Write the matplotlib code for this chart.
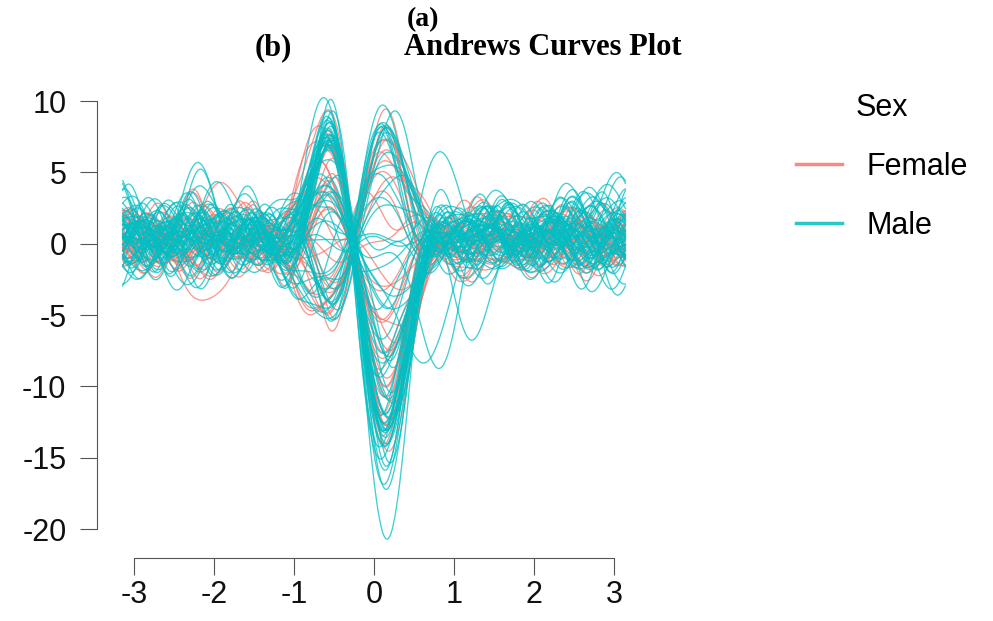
import numpy as np
import matplotlib
matplotlib.use("Agg")
import matplotlib.pyplot as plt
from matplotlib.lines import Line2D

# Observations: 19 measurements per subject, one list per sex
female_rows = [
    [0.4, -1.4, -1.8, -2.2, -1.8, -1.9, -2.4, -1.7, -2.3, -1.0, -2.1, -0.3, -1.6, -0.5, -0.6, -0.5, 0.3, 0.6, -0.4],
    [-0.3, -0.6, -2.1, -1.3, -2.1, -2.2, -1.5, -2.0, -1.5, -1.4, -1.3, -0.8, -0.9, 0.1, -1.0, 0.6, -0.7, -0.2, 0.5],
    [0.7, -1.2, -1.5, -1.9, -1.6, -1.6, -2.1, -1.4, -2.1, -0.9, -1.9, -0.3, -1.4, -0.5, -0.5, -0.3, 0.8, -0.6, -0.1],
    [-0.6, -0.8, -1.9, -1.5, -1.9, -2.0, -1.7, -1.9, -1.7, -1.3, -1.5, -0.6, -1.1, -0.2, -0.9, 0.2, 0.4, 0.7, 0.6],
    [0.1, -1.1, -1.7, -1.8, -1.7, -1.8, -1.9, -1.6, -1.9, -1.0, -1.7, -0.4, -1.3, -0.3, -0.6, -0.7, -0.4, 0.2, -0.7],
    [0.5, -0.5, -1.9, -1.2, -1.9, -2.0, -1.3, -1.8, -1.3, -1.3, -1.2, -0.7, -0.8, 0.1, -0.9, 0.5, 0.6, -0.5, 0.2],
    [-0.4, -1.1, -1.3, -1.7, -1.4, -1.4, -1.9, -1.3, -1.9, -0.8, -1.7, -0.2, -1.3, -0.5, -0.4, -0.6, -0.2, 0.6, -0.5],
    [0.0, -0.8, -1.7, -1.5, -1.6, -1.7, -1.6, -1.6, -1.7, -1.1, -1.4, -0.5, -1.0, -0.2, -0.7, 0.8, -0.5, 0.1, 0.7],
    [-0.7, -1.0, -1.1, -1.5, -1.2, -1.2, -1.6, -1.0, -1.6, -0.6, -1.4, -0.1, -1.1, -0.4, -0.3, 0.3, 0.7, -0.7, -0.2],
    [0.6, -0.4, -1.6, -1.0, -1.6, -1.7, -1.1, -1.5, -1.1, -1.1, -1.0, -0.6, -0.7, 0.1, -0.8, -0.5, -0.6, 0.4, 0.5],
    [0.2, -0.7, -1.4, -1.3, -1.3, -1.4, -1.4, -1.3, -1.4, -0.8, -1.2, -0.4, -0.9, -0.1, -0.6, 0.6, 0.2, 0.5, -0.6],
    [-0.2, -0.9, -0.8, -1.3, -0.8, -0.9, -1.4, -0.7, -1.4, -0.4, -1.2, 0.0, -0.9, -0.4, -0.2, -0.4, 0.5, 0.3, 0.6],
    [0.5, -0.3, -1.3, -0.7, -1.4, -1.4, -0.8, -1.3, -0.8, -0.9, -0.7, -0.6, -0.5, 0.1, -0.7, 0.7, -0.3, -0.6, -0.4],
    [-0.5, -0.6, -1.1, -1.0, -1.1, -1.2, -1.1, -1.0, -1.1, -0.7, -1.0, -0.3, -0.7, -0.2, -0.4, -0.2, -0.8, 0.6, 0.3],
    [0.3, -0.7, -0.5, -1.0, -0.5, -0.6, -1.1, -0.5, -1.1, -0.2, -1.0, 0.1, -0.8, -0.4, -0.1, 0.4, 0.6, -0.4, -0.5],
    [-0.6, -0.2, -1.1, -0.5, -1.1, -1.1, -0.6, -1.0, -0.6, -0.8, -0.5, -0.5, -0.3, 0.2, -0.6, -0.6, 0.2, 0.5, 0.7],
    [0.4, -0.5, -0.3, -0.7, -0.3, -0.3, -0.8, -0.2, -0.8, -0.1, -0.7, 0.1, -0.6, -0.3, 0.1, 0.5, -0.4, -0.3, 0.4],
    [-0.4, 0.1, -0.6, 0.0, -0.6, -0.6, 0.0, -0.5, 0.0, -0.5, 0.1, -0.4, 0.1, 0.3, -0.4, -0.5, 0.7, 0.2, -0.3],
    [0.3, -0.3, 0.3, -0.4, 0.4, 0.3, -0.3, 0.4, -0.4, 0.3, -0.3, 0.4, -0.3, -0.3, 0.3, 0.4, -0.3, -0.6, 0.5],
    [-0.3, 0.6, 0.3, 0.8, 0.3, 0.2, 0.8, 0.2, 0.8, 0.0, 0.7, -0.1, 0.6, 0.3, -0.1, -0.4, 0.5, 0.6, -0.4],
    [0.5, 0.0, 0.8, 0.2, 0.8, 0.9, 0.3, 0.8, 0.3, 0.6, 0.2, 0.4, 0.1, -0.2, 0.5, 0.6, -0.5, -0.3, 0.3],
    [-0.5, 0.8, 0.5, 1.1, 0.5, 0.5, 1.1, 0.4, 1.1, 0.2, 1.0, 0.0, 0.8, 0.4, 0.0, 0.3, 0.6, -0.5, -0.6],
    [0.4, 0.1, 1.1, 0.4, 1.1, 1.2, 0.5, 1.1, 0.5, 0.8, 0.4, 0.5, 0.2, -0.2, 0.6, -0.7, -0.2, 0.4, 0.5],
    [0.1, 0.9, 0.7, 1.2, 0.7, 0.8, 1.3, 0.7, 1.3, 0.4, 1.2, 0.1, 0.9, 0.4, 0.1, 0.5, 0.3, 0.7, -0.2],
    [-0.6, 0.2, 1.3, 0.6, 1.3, 1.3, 0.7, 1.2, 0.7, 0.9, 0.6, 0.6, 0.3, -0.1, 0.7, -0.4, 0.8, -0.5, 0.1],
    [0.6, 0.5, 1.0, 0.9, 1.0, 1.1, 1.0, 0.9, 1.0, 0.6, 0.9, 0.3, 0.7, 0.1, 0.4, 0.2, -0.7, -0.2, 0.6],
    [-0.2, 0.7, 0.9, 1.0, 0.9, 1.0, 1.1, 0.9, 1.0, 0.7, 0.8, 0.3, 0.6, 0.2, 0.4, -0.6, 0.4, 0.3, -0.5],
    [0.3, 0.9, 1.0, 1.3, 1.0, 1.0, 1.4, 0.9, 1.4, 0.5, 1.3, 0.1, 1.0, 0.4, 0.2, 0.6, -0.4, 0.5, 0.3],
    [-0.4, 0.4, 1.4, 0.8, 1.4, 1.5, 0.9, 1.4, 0.9, 1.0, 0.8, 0.6, 0.5, -0.1, 0.8, -0.3, 0.6, -0.7, -0.4],
    [-0.3, 0.4, -0.2, -1.2, -0.4, -0.7, -1.7, 0.0, -0.6, -1.1, -0.6, -0.3, -1.3, 0.1, -0.2, 0.2, -0.3, 0.1, 0.4],
    [-0.5, -0.8, -2.3, -1.5, -2.2, -2.4, -1.7, -2.2, -1.8, -1.5, -1.5, -0.8, -1.1, 0.0, -1.1, 0.7, 0.6, -0.8, 0.2],
    [0.6, -1.0, -1.2, -1.6, -1.2, -1.3, -1.7, -1.1, -1.7, -0.6, -1.5, -0.2, -1.2, -0.5, -0.3, -0.8, -0.6, 0.5, 0.7],
    [-0.2, -0.3, -1.2, -0.6, -1.2, -1.2, -0.6, -1.1, -0.7, -0.8, -0.5, -0.5, -0.3, 0.2, -0.6, 0.6, 0.9, 0.4, -0.5],
    [0.7, 0.5, 0.1, 0.6, 0.1, 0.0, 0.7, 0.1, 0.7, -0.1, 0.6, -0.2, 0.5, 0.3, -0.2, -0.7, -0.4, -0.6, 0.6],
    [-0.4, 0.8, 0.9, 1.2, 0.8, 0.9, 1.3, 0.8, 1.3, 0.4, 1.2, 0.0, 1.0, 0.4, 0.2, 0.8, -0.5, 0.4, 0.3],
    [0.5, 0.2, 1.2, 0.5, 1.2, 1.3, 0.6, 1.2, 0.6, 0.9, 0.5, 0.6, 0.3, -0.2, 0.7, -0.5, 0.7, 0.7, -0.6],
    [0.4, -0.8, -0.6, -0.1, -1.0, -0.1, 0.0, -1.0, -0.2, -0.4, -0.9, 0.3, -0.3, -0.2, 0.1, 0.2, -0.3, 0.1, 0.2],
    [0.2, -1.3, -1.4, -1.9, -1.5, -1.6, -2.0, -1.4, -2.0, -0.8, -1.8, -0.2, -1.4, -0.5, -0.4, -0.6, 0.8, -0.4, -0.7],
]

male_rows = [
    [0.5, -1.3, -3.4, -2.0, -3.6, -2.3, -3.0, -2.2, -2.6, -1.4, -2.3, -1.2, -1.6, -1.4, -0.4, -0.6, -0.6, 0.3, 0.5],
    [-0.4, -0.4, -2.7, -2.1, -2.0, -1.7, -2.8, -2.6, -2.0, -1.9, -1.7, -1.1, -1.2, 0.1, -1.4, -0.5, 0.7, -0.2, -0.6],
    [0.7, -1.2, -2.0, -1.4, -2.8, -2.5, -2.0, -1.9, -2.8, -1.1, -2.5, -0.3, -1.9, -0.7, -0.5, 0.6, 0.2, -0.7, 0.3],
    [-0.1, -0.7, -2.6, -2.0, -2.2, -1.9, -2.6, -2.5, -2.1, -1.8, -1.9, -0.9, -1.4, -0.2, -1.2, -0.3, -0.8, 0.5, 0.1],
    [0.3, -1.1, -1.7, -1.9, -2.4, -1.4, -2.5, -1.6, -2.4, -1.0, -2.2, -0.2, -1.7, -0.7, -0.4, 0.8, -0.1, 0.4, -0.5],
    [-0.6, -0.7, -2.4, -1.5, -1.8, -2.2, -1.7, -2.3, -1.7, -1.7, -1.5, -1.0, -1.0, 0.2, -1.3, -0.6, 0.5, -0.4, 0.7],
    [0.9, -0.9, -2.3, -1.8, -1.7, -1.6, -2.4, -1.7, -2.5, -1.1, -1.6, -0.9, -1.6, -0.5, -0.6, 0.2, 0.9, 0.6, -0.2],
    [-0.2, -0.9, -1.8, -1.6, -2.5, -2.0, -1.8, -2.2, -1.8, -1.5, -2.1, -0.3, -1.1, -0.1, -1.1, -0.9, -0.3, -0.5, 0.4],
    [0.1, -1.0, -2.2, -1.6, -2.0, -1.5, -2.3, -2.1, -2.2, -1.2, -1.7, -0.8, -1.5, -0.4, -0.9, 0.5, -0.7, 0.2, 0.8],
    [0.6, -0.5, -2.1, -1.9, -1.4, -1.6, -2.2, -2.0, -1.5, -0.8, -1.9, -0.9, -0.8, -0.6, -0.4, -0.4, 0.6, 0.7, -0.3],
    [-0.7, -1.3, -1.5, -1.3, -2.2, -2.2, -1.5, -1.4, -2.1, -1.5, -1.3, -0.2, -1.5, 0.1, -1.0, 0.7, -0.4, -0.6, 0.2],
    [0.2, -0.8, -2.0, -1.9, -1.6, -1.7, -2.1, -1.9, -1.6, -1.0, -1.8, -0.7, -1.0, -0.5, -0.5, 0.1, 0.8, -0.3, -0.7],
    [-0.3, -1.2, -1.6, -1.4, -2.1, -2.1, -1.6, -1.5, -2.0, -1.4, -1.4, -0.3, -1.4, -0.1, -0.9, -0.8, -0.2, 0.5, 0.6],
    [0.4, -0.6, -1.9, -1.8, -1.7, -1.5, -2.0, -1.6, -1.9, -0.9, -1.8, -0.6, -1.3, -0.3, -0.6, 0.6, -0.5, -0.8, -0.1],
    [-0.5, -1.1, -1.7, -1.5, -2.0, -2.2, -1.6, -1.9, -1.7, -1.3, -1.4, -0.4, -1.0, -0.2, -0.9, -0.2, 0.4, 0.8, 0.5],
    [0.8, -0.9, -1.9, -1.7, -1.8, -1.8, -1.9, -1.5, -2.0, -1.2, -1.7, -0.5, -1.2, -0.4, -0.7, 0.3, -0.9, -0.1, 0.6],
    [-0.1, -1.0, -1.6, -1.6, -1.9, -2.0, -1.7, -1.8, -1.7, -1.0, -1.5, -0.6, -1.1, 0.0, -0.8, -0.6, 0.3, 0.4, -0.8],
    [0.5, -0.4, -1.9, -1.8, -1.3, -1.4, -2.0, -1.9, -1.3, -0.7, -1.8, -0.8, -0.7, -0.5, -0.3, 0.9, 0.1, -0.4, 0.3],
    [-0.4, -1.2, -1.3, -1.2, -2.0, -2.0, -1.3, -1.2, -1.9, -1.3, -1.1, -0.1, -1.4, 0.1, -1.0, -0.5, -0.6, 0.6, -0.4],
    [0.0, -0.7, -1.8, -1.6, -1.5, -1.8, -1.6, -1.6, -1.7, -0.9, -1.6, -0.6, -0.9, -0.4, -0.5, 0.4, 0.7, 0.3, 0.8],
    [0.7, -1.0, -1.4, -1.3, -1.8, -1.5, -1.8, -1.4, -1.5, -1.2, -1.3, -0.3, -1.2, -0.1, -0.9, -0.7, 0.2, -0.6, -0.2],
    [-0.8, -0.6, -1.7, -1.7, -1.6, -1.9, -1.5, -1.7, -1.8, -0.8, -1.5, -0.7, -1.0, -0.3, -0.6, 0.2, -0.8, 0.5, 0.4],
    [0.3, -1.1, -1.0, -1.6, -1.7, -1.1, -1.7, -1.0, -1.7, -0.5, -1.5, -0.1, -1.2, -0.5, -0.2, 0.8, 0.4, 0.1, -0.6],
    [-0.5, -0.3, -1.6, -0.9, -1.1, -1.7, -1.1, -1.6, -1.1, -1.2, -0.9, -0.7, -0.6, 0.2, -0.9, -0.4, 0.9, -0.5, 0.2],
    [0.9, -0.8, -1.4, -1.4, -1.2, -1.3, -1.5, -1.2, -1.5, -0.8, -1.3, -0.5, -0.8, -0.1, -0.6, 0.1, -0.6, 0.8, 0.5],
    [-0.2, -0.6, -1.2, -1.1, -1.5, -1.6, -1.2, -1.4, -1.3, -1.0, -1.0, -0.3, -1.0, -0.3, -0.4, -0.7, -0.1, -0.3, -0.8],
    [0.4, -0.2, -1.4, -1.3, -0.7, -0.8, -1.4, -1.4, -0.8, -0.3, -1.3, -0.7, -0.4, -0.5, -0.1, 0.6, -0.3, -0.7, 0.4],
    [-0.6, -0.9, -0.8, -0.6, -1.4, -1.5, -0.8, -0.7, -1.4, -1.0, -0.7, 0.1, -1.0, 0.2, -0.8, -0.5, 0.7, 0.4, -0.3],
    [0.1, -0.5, -1.1, -1.0, -1.0, -1.2, -1.0, -1.1, -1.2, -0.6, -1.0, -0.4, -0.6, -0.2, -0.5, 0.3, 0.2, -0.9, 0.7],
    [-0.3, -0.8, -0.4, -1.1, -1.2, -0.5, -1.1, -0.4, -1.2, -0.1, -1.0, 0.2, -0.9, -0.5, 0.0, -0.8, -0.4, 0.6, 0.2],
    [0.6, -0.1, -1.1, -0.4, -0.5, -1.2, -0.5, -1.1, -0.5, -0.9, -0.4, -0.6, -0.2, 0.3, -0.7, 0.5, 0.8, -0.2, -0.5],
    [0.2, -0.7, -0.2, -0.8, -0.9, -0.2, -0.9, -0.1, -0.9, 0.0, -0.8, 0.2, -0.7, -0.4, 0.1, -0.6, 0.3, 0.7, -0.7],
    [-0.5, 0.1, -0.8, -0.2, -0.2, -0.9, -0.3, -0.8, -0.2, -0.7, -0.2, -0.5, 0.0, 0.3, -0.5, 0.7, -0.5, -0.4, 0.6],
    [0.4, -0.5, 0.1, -0.6, -0.6, 0.1, -0.6, 0.1, -0.6, 0.2, -0.5, 0.3, -0.5, -0.4, 0.2, 0.9, 0.1, -0.5, 0.3],
    [-0.3, 0.4, -0.4, 0.3, 0.4, -0.4, 0.3, -0.4, 0.4, -0.3, 0.3, -0.4, 0.4, 0.3, -0.3, -0.4, -0.7, 0.3, -0.5],
    [0.5, 0.7, 0.2, 0.8, 0.9, 0.2, 0.9, 0.1, 0.9, 0.0, 0.8, -0.2, 0.7, 0.4, -0.1, 0.6, -0.2, -0.7, 0.4],
    [-0.4, -0.1, 0.8, 0.2, 0.2, 0.9, 0.3, 0.8, 0.2, 0.7, 0.2, 0.5, 0.0, -0.3, 0.5, -0.7, 0.6, 0.2, -0.3],
    [0.3, 0.8, 0.5, 1.1, 1.2, 0.5, 1.1, 0.4, 1.2, 0.2, 1.0, -0.1, 0.9, 0.5, 0.0, 0.4, 0.5, 0.6, 0.7],
    [-0.6, 0.1, 1.1, 0.4, 0.5, 1.2, 0.5, 1.1, 0.5, 0.9, 0.4, 0.6, 0.2, -0.2, 0.7, -0.5, -0.8, -0.3, 0.1],
    [0.7, 0.5, 0.9, 0.8, 0.7, 0.8, 0.9, 0.7, 0.9, 0.4, 0.8, 0.3, 0.5, 0.0, 0.4, 0.2, 0.1, -0.9, -0.6],
    [0.2, 0.9, 0.7, 1.2, 1.3, 0.7, 1.3, 0.6, 1.4, 0.3, 1.2, 0.0, 1.0, 0.5, 0.1, -0.3, 0.7, 0.5, -0.4],
    [-0.5, 0.2, 1.3, 0.6, 0.7, 1.4, 0.7, 1.3, 0.7, 1.0, 0.6, 0.7, 0.3, -0.2, 0.8, 0.6, -0.4, -0.6, 0.5],
    [0.6, 0.6, 1.0, 1.0, 0.9, 1.0, 1.1, 0.9, 1.1, 0.6, 0.9, 0.4, 0.6, 0.1, 0.4, -0.8, 0.2, 0.3, 0.8],
    [-0.1, 0.4, 1.1, 0.8, 1.2, 1.2, 0.9, 1.1, 0.9, 0.8, 0.8, 0.2, 0.8, 0.3, 0.3, 0.5, 0.9, -0.2, -0.7],
    [0.9, 0.7, 0.8, 1.1, 0.9, 0.9, 1.2, 0.8, 1.2, 0.5, 1.0, 0.5, 0.5, 0.0, 0.5, -0.1, -0.6, 0.8, 0.2],
    [0.3, 1.0, 0.9, 1.4, 1.5, 0.9, 1.5, 0.8, 1.6, 0.4, 1.4, 0.1, 1.1, 0.6, 0.2, 0.7, -0.3, -0.4, 0.6],
    [-0.4, 0.3, 1.5, 0.8, 0.9, 1.6, 0.9, 1.5, 0.9, 1.1, 0.8, 0.7, 0.4, -0.2, 0.9, -0.6, 0.5, 0.7, -0.2],
    [0.6, 0.7, 1.2, 1.1, 1.2, 1.2, 1.2, 1.1, 1.2, 0.8, 1.0, 0.3, 0.8, 0.2, 0.5, 0.2, 0.8, -0.8, -0.5],
    [0.2, -1.3, -1.3, -1.8, -0.4, -1.4, 0.6, -0.3, 1.0, 0.7, 0.4, 0.8, -0.5, 0.4, -0.8, 0.3, -0.5, -0.2, 0.4],
    [0.0, -1.0, -0.4, -0.5, 0.9, 0.6, 0.8, 1.0, -0.3, 0.0, -0.8, -0.7, -0.3, -0.3, 0.4, -0.2, 0.3, 0.4, 0.1],
    [0.6, -0.5, -0.4, 0.7, -0.2, -0.2, 0.7, -0.4, -0.6, 0.6, 0.0, -0.3, 0.4, -0.1, -0.3, 0.5, 0.2, -0.4, 0.3],
    [0.3, -1.0, -2.3, -1.5, -2.3, -2.0, -1.7, -2.2, -2.3, -0.9, -2.0, -0.9, -1.0, 0.1, -1.1, 0.8, -0.5, -0.6, 0.7],
    [-0.6, -0.7, -1.7, -2.1, -1.8, -1.8, -2.3, -1.6, -1.8, -1.6, -1.5, -0.3, -1.6, -0.6, -0.5, -0.9, 0.6, 0.7, -0.4],
    [0.9, -0.8, -2.1, -1.5, -2.2, -1.6, -2.1, -2.0, -1.9, -1.3, -1.9, -0.6, -1.2, -0.3, -0.8, 0.6, 0.9, -0.8, -0.6],
    [-0.2, -0.6, -2.0, -1.4, -1.5, -2.3, -1.6, -2.0, -2.1, -0.8, -1.4, -0.9, -1.4, 0.2, -1.0, -0.7, -0.9, 0.4, 0.8],
    [0.8, -1.1, -1.2, -1.6, -1.1, -1.3, -1.8, -1.1, -1.7, -0.6, -1.5, -0.1, -1.3, -0.6, -0.2, 0.9, -0.2, 0.8, -0.7],
    [-0.7, -0.2, -1.2, -0.5, -1.3, -1.3, -0.6, -1.1, -0.6, -0.9, -0.5, -0.6, -0.2, 0.3, -0.7, -0.8, 0.7, -0.6, 0.5],
    [0.6, 0.5, 0.1, 0.7, 0.0, 0.1, 0.7, 0.0, 0.8, -0.2, 0.6, -0.3, 0.6, 0.4, -0.3, 0.7, 0.8, -0.5, -0.6],
    [-0.3, 0.9, 0.8, 1.3, 0.8, 0.9, 1.4, 0.8, 1.4, 0.4, 1.3, 0.1, 1.0, 0.5, 0.1, -0.6, 0.6, 0.8, 0.4],
    [0.7, 0.3, 1.4, 0.7, 1.4, 1.4, 0.8, 1.3, 0.8, 1.0, 0.7, 0.6, 0.4, -0.2, 0.8, 0.8, -0.7, -0.3, -0.8],
    [0.2, 0.5, 0.2, 0.6, -0.5, 0.2, -1.2, -0.6, -1.5, -1.0, -0.9, -0.8, -0.2, -0.3, 0.2, 0.3, 0.2, -0.2, 0.1],
    [-0.2, -1.2, -1.7, -1.9, -1.0, -1.9, -0.1, -1.1, 0.5, -0.1, 0.5, 0.6, 0.0, 0.5, -0.4, -0.3, 0.2, 0.3, -0.2],
    [0.1, -0.6, -2.6, -1.9, -2.0, -1.7, -2.6, -2.4, -2.0, -1.2, -2.3, -0.9, -1.2, -0.1, -1.2, 0.5, -0.8, 0.9, 0.3],
]

groups = ["Female", "Male"]
colors = {"Female": "#F8766D", "Male": "#00BFC4"}


def andrews(row, t):
    # f(t) = x1/sqrt(2) + x2 sin t + x3 cos t + x4 sin 2t + x5 cos 2t + ...
    y = np.full_like(t, row[0] / np.sqrt(2))
    for j, v in enumerate(row[1:]):
        k = j // 2 + 1
        if j % 2 == 0:
            y += v * np.sin(k * t)
        else:
            y += v * np.cos(k * t)
    return y


t = np.linspace(-np.pi, np.pi, 600)

plt.rcParams['font.family'] = ['Liberation Sans', 'DejaVu Sans']
plt.rcParams['axes.unicode_minus'] = False
fig = plt.figure(figsize=(9.93, 6.21), dpi=100)
ax = fig.add_axes([0.0977, 0.1014, 0.5529, 0.7818])

for name, rows in zip(groups, [female_rows, male_rows]):
    for r in rows:
        ax.plot(t, andrews(r, t), color=colors[name], lw=0.95, alpha=0.75)

ax.set_xlim(-3.4625, 3.4)
ax.set_ylim(-22.03, 12)
ax.set_xticks([-3, -2, -1, 0, 1, 2, 3])
ax.set_yticks([-20, -15, -10, -5, 0, 5, 10])
ax.spines['top'].set_visible(False)
ax.spines['right'].set_visible(False)
ax.spines['left'].set_bounds(-20, 10)
ax.spines['bottom'].set_bounds(-3, 3)
for s in ['left', 'bottom']:
    ax.spines[s].set_color('#555555')
    ax.spines[s].set_linewidth(0.8)
ax.tick_params(axis='both', length=12, width=0.8, color='#555555',
               labelsize=22, labelcolor='#111111')
ax.tick_params(axis='y', pad=10)
ax.tick_params(axis='x', pad=4)

handles = [Line2D([0], [0], color=colors[g], lw=2.5, alpha=0.85) for g in groups]
ax.legend(handles, groups, title='Sex', loc='upper left',
          bbox_to_anchor=(796 / 993, 1 - 93 / 621), bbox_transform=fig.transFigure,
          frameon=False, fontsize=22, title_fontsize=22, handlelength=1.5,
          handletextpad=0.8, labelspacing=0.95, borderpad=0, borderaxespad=0)

fig.text(423 / 993, 1 - 26 / 621, "(a)", ha='center', va='baseline',
         family='Liberation Serif', weight='bold', fontsize=20)
fig.text(273 / 993, 1 - 55 / 621, "(b)", ha='center', va='baseline',
         family='Liberation Serif', weight='bold', fontsize=22)
fig.text(543 / 993, 1 - 55 / 621, "Andrews Curves Plot", ha='center', va='baseline',
         family='Liberation Serif', weight='bold', fontsize=22)

fig.savefig("out.png", dpi=100)
